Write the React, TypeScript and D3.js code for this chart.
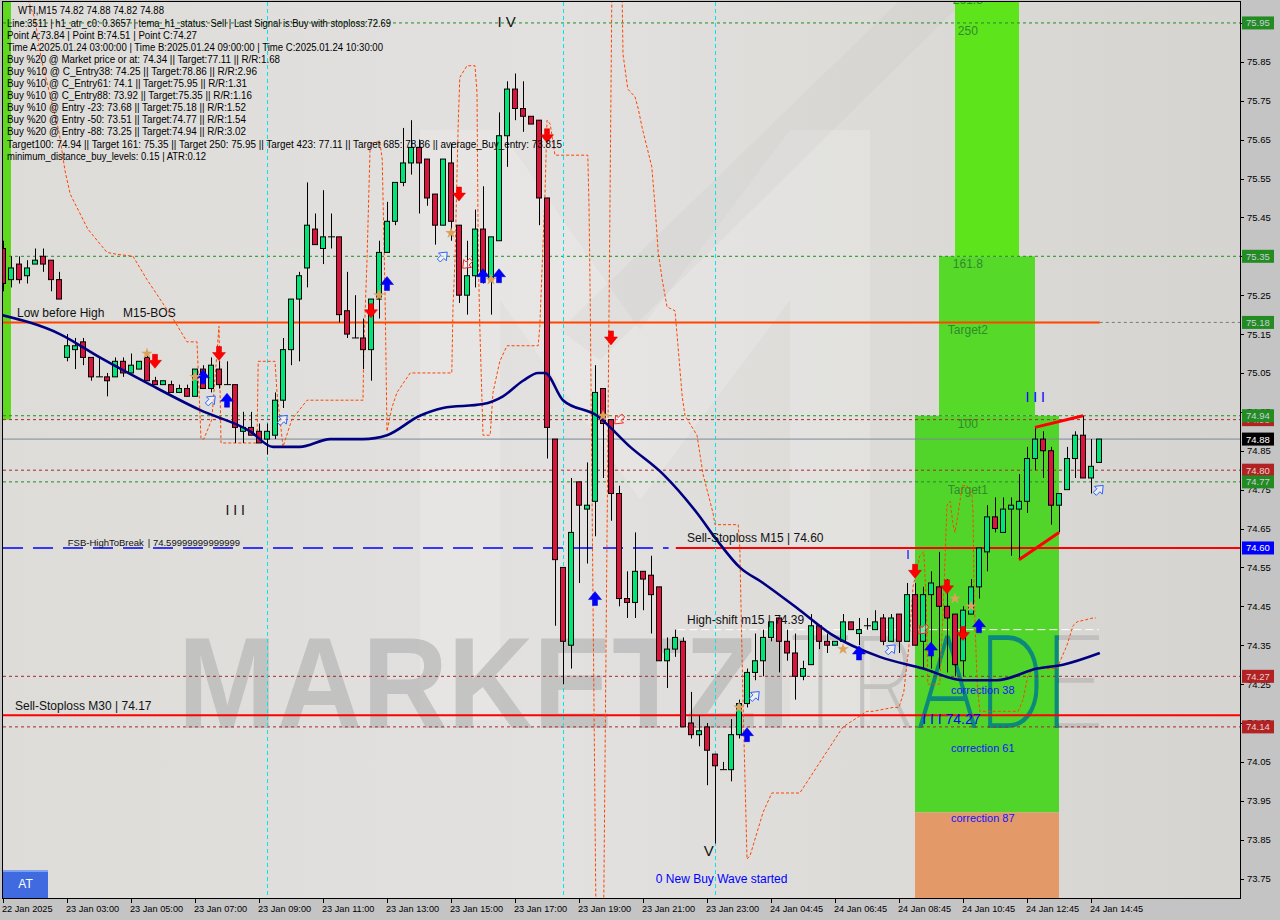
import * as d3 from "d3";

const FONT = "'Liberation Sans', Arial, Helvetica, sans-serif";

// OHLC of the M15 bars, index 0 = first bar on the left
const openP = [
  75.37, 75.29, 75.33, 75.30, 75.33, 75.35, 75.34, 75.29, 75.09, 75.11,
  75.13, 75.09, 75.04, 75.04, 75.04, 75.08, 75.05, 75.06, 75.09, 75.03,
  75.02, 75.02, 75.00, 75.01, 74.99, 75.06, 75.01, 75.06, 75.02, 75.02,
  74.90, 74.91, 74.90, 74.88, 74.89, 74.98, 75.11, 75.24, 75.32, 75.42,
  75.37, 75.40, 75.40, 75.21, 75.14, 75.14, 75.11, 75.24, 75.36, 75.44,
  75.54, 75.59, 75.63, 75.60, 75.51, 75.43, 75.59, 75.43, 75.25, 75.30,
  75.42, 75.29, 75.39, 75.66, 75.78, 75.73, 75.71, 75.70, 75.50, 74.88,
  74.55, 74.35, 74.77, 74.70, 74.72, 75.01, 74.93, 74.74, 74.47, 74.46,
  74.54, 74.53, 74.50, 74.31, 74.34, 74.36, 74.15, 74.12, 74.14, 74.07,
  74.03, 74.03, 74.12, 74.20, 74.28, 74.31, 74.37, 74.42, 74.36, 74.33,
  74.27, 74.30, 74.40, 74.36, 74.35, 74.36, 74.41, 74.38, 74.40, 74.39,
  74.42, 74.36, 74.43, 74.36, 74.48, 74.36, 74.48, 74.50, 74.45, 74.43,
  74.31, 74.43, 74.50, 74.59, 74.68, 74.64, 74.70, 74.70, 74.72, 74.83,
  74.88, 74.85, 74.71, 74.75, 74.83, 74.89, 74.78, 74.82,
];
const highP = [
  75.39, 75.35, 75.35, 75.34, 75.37, 75.37, 75.34, 75.31, 75.15, 75.14,
  75.14, 75.09, 75.09, 75.05, 75.09, 75.09, 75.10, 75.08, 75.10, 75.04,
  75.03, 75.03, 75.02, 75.02, 75.06, 75.07, 75.09, 75.08, 75.08, 75.02,
  74.95, 74.95, 74.92, 74.92, 75.00, 75.14, 75.24, 75.31, 75.54, 75.46,
  75.52, 75.46, 75.40, 75.31, 75.25, 75.19, 75.24, 75.39, 75.49, 75.54,
  75.68, 75.70, 75.65, 75.60, 75.51, 75.60, 75.64, 75.43, 75.39, 75.47,
  75.53, 75.40, 75.72, 75.80, 75.82, 75.80, 75.71, 75.70, 75.50, 74.88,
  74.55, 74.78, 74.77, 74.82, 75.07, 75.01, 74.93, 74.76, 74.54, 74.64,
  74.54, 74.58, 74.50, 74.37, 74.39, 74.37, 74.23, 74.17, 74.15, 74.07,
  74.05, 74.16, 74.21, 74.29, 74.38, 74.39, 74.41, 74.42, 74.39, 74.38,
  74.31, 74.43, 74.40, 74.38, 74.36, 74.43, 74.41, 74.42, 74.42, 74.44,
  74.43, 74.43, 74.43, 74.51, 74.51, 74.50, 74.54, 74.59, 74.52, 74.43,
  74.45, 74.52, 74.60, 74.71, 74.73, 74.73, 74.73, 74.79, 74.86, 74.91,
  74.90, 74.86, 74.74, 74.86, 74.90, 74.94, 74.88, 74.88,
];
const lowP = [
  75.26, 75.27, 75.28, 75.28, 75.33, 75.31, 75.26, 75.24, 75.08, 75.06,
  75.07, 75.03, 75.04, 74.99, 75.04, 75.04, 75.05, 75.06, 75.03, 75.02,
  75.02, 75.00, 75.00, 74.99, 74.99, 75.01, 75.00, 75.01, 75.02, 74.87,
  74.87, 74.89, 74.87, 74.84, 74.88, 74.96, 75.07, 75.08, 75.27, 75.38,
  75.33, 75.37, 75.18, 75.14, 75.14, 75.06, 75.03, 75.19, 75.36, 75.43,
  75.53, 75.56, 75.46, 75.48, 75.38, 75.43, 75.39, 75.23, 75.20, 75.27,
  75.28, 75.20, 75.39, 75.58, 75.70, 75.67, 75.69, 75.43, 74.83, 74.40,
  74.25, 74.29, 74.51, 74.56, 74.63, 74.78, 74.67, 74.45, 74.42, 74.42,
  74.44, 74.38, 74.31, 74.24, 74.32, 74.14, 74.11, 74.09, 73.99, 73.84,
  74.03, 74.00, 74.11, 74.19, 74.26, 74.27, 74.36, 74.28, 74.31, 74.21,
  74.26, 74.30, 74.34, 74.33, 74.35, 74.36, 74.39, 74.35, 74.39, 74.39,
  74.35, 74.36, 74.33, 74.36, 74.35, 74.29, 74.29, 74.29, 74.28, 74.27,
  74.27, 74.43, 74.47, 74.54, 74.64, 74.64, 74.58, 74.57, 74.69, 74.80,
  74.78, 74.66, 74.64, 74.75, 74.78, 74.78, 74.74, 74.82,
];
const closeP = [
  75.28, 75.32, 75.29, 75.32, 75.34, 75.33, 75.29, 75.24, 75.12, 75.12,
  75.09, 75.04, 75.04, 75.03, 75.08, 75.05, 75.07, 75.08, 75.03, 75.02,
  75.03, 75.00, 75.01, 74.99, 75.06, 75.01, 75.07, 75.02, 75.02, 74.91,
  74.91, 74.89, 74.87, 74.90, 74.98, 75.11, 75.24, 75.30, 75.43, 75.38,
  75.40, 75.40, 75.20, 75.15, 75.14, 75.11, 75.24, 75.36, 75.44, 75.54,
  75.59, 75.63, 75.59, 75.50, 75.43, 75.60, 75.44, 75.25, 75.30, 75.42,
  75.31, 75.40, 75.66, 75.78, 75.73, 75.71, 75.69, 75.50, 74.91, 74.57,
  74.36, 74.64, 74.71, 74.71, 75.00, 74.92, 74.74, 74.47, 74.46, 74.54,
  74.52, 74.48, 74.31, 74.34, 74.37, 74.14, 74.12, 74.13, 74.08, 74.04,
  74.03, 74.12, 74.20, 74.28, 74.31, 74.37, 74.41, 74.36, 74.33, 74.27,
  74.29, 74.40, 74.36, 74.35, 74.36, 74.41, 74.39, 74.39, 74.40, 74.41,
  74.36, 74.42, 74.36, 74.48, 74.35, 74.48, 74.51, 74.45, 74.42, 74.30,
  74.44, 74.50, 74.60, 74.68, 74.65, 74.70, 74.71, 74.72, 74.83, 74.88,
  74.85, 74.71, 74.74, 74.83, 74.89, 74.78, 74.81, 74.88,
];

const timeTickBars = [0, 8, 16, 24, 32, 40, 48, 56, 64, 72, 80, 88, 96, 104, 112, 120, 128, 136];
const timeLabels = [
  "22 Jan 2025", "23 Jan 03:00", "23 Jan 05:00", "23 Jan 07:00", "23 Jan 09:00", "23 Jan 11:00",
  "23 Jan 13:00", "23 Jan 15:00", "23 Jan 17:00", "23 Jan 19:00", "23 Jan 21:00", "23 Jan 23:00",
  "24 Jan 04:45", "24 Jan 06:45", "24 Jan 08:45", "24 Jan 10:45", "24 Jan 12:45", "24 Jan 14:45",
];
const priceTicks = [
  75.95, 75.85, 75.75, 75.65, 75.55, 75.45, 75.35, 75.25, 75.15, 75.05, 74.95, 74.85,
  74.75, 74.65, 74.55, 74.45, 74.35, 74.25, 74.15, 74.05, 73.95, 73.85, 73.75,
];

// moving average, [bar, price]
const maPoints: [number, number][] = [
  [-0.4, 75.2], [7.1, 75.15], [12.1, 75.09], [18.4, 75.02], [24.6, 74.955], [30.9, 74.9],
  [33.75, 74.86], [37.1, 74.86], [40.9, 74.88], [45, 74.88], [48, 74.89], [52.1, 74.94],
  [55, 74.96], [60, 74.97], [62.5, 74.99], [65, 75.03], [66.9, 75.05], [67.75, 75.05],
  [70, 74.98], [74.25, 74.94], [78.4, 74.86], [82.5, 74.79], [86.75, 74.69], [89.25, 74.62],
  [92.1, 74.55], [95, 74.51], [99.6, 74.44], [103.4, 74.38], [109.6, 74.32], [115, 74.29],
  [120, 74.26], [124.25, 74.26], [129.25, 74.29], [132.5, 74.3], [137.1, 74.33],
];

// stepped orange envelope, [bar, price]
const envelopeLeft: [number, number][] = [
  [3.1, 76.01], [4, 75.96], [4.75, 75.86], [7, 75.67], [7.75, 75.57], [8.4, 75.51], [10.6, 75.42],
  [13, 75.36], [14.25, 75.355], [16.25, 75.35], [18, 75.29], [21.25, 75.19], [23, 75.13],
  [24.25, 75.13], [24.75, 74.88], [25.1, 74.88], [26.1, 74.93], [27, 75.17], [27.25, 74.87],
  [31.25, 74.87], [31.75, 74.87], [31.9, 75.08], [34, 75.08], [34.25, 75.0], [35, 74.86],
  [36.1, 74.93], [38, 74.98], [45, 74.98], [45.1, 75.11], [45.5, 75.34], [45.9, 75.64],
  [47.1, 75.645], [47.4, 75.6], [47.75, 75.26], [48, 74.9], [48.6, 74.96], [49.25, 75.0],
  [50.9, 75.05], [56.1, 75.05], [56.25, 75.22], [56.5, 75.34], [56.9, 75.69], [57.1, 75.81],
  [58, 75.84], [59, 75.84], [59.25, 75.77], [59.4, 75.36], [59.6, 75.17], [60, 74.89],
  [60.9, 74.89], [61.25, 75.0], [62.1, 75.08], [63, 75.12], [66.9, 75.12], [67.1, 75.17],
  [67.75, 75.51], [68, 75.7], [68.4, 75.69], [69, 75.61], [73.1, 75.61], [73.25, 75.48],
  [73.4, 75.24], [73.75, 74.47], [74.1, 73.7],
];
const envelopeSpike: [number, number][] = [[76.1, 76.01], [75.1, 73.7]];
const envelopeRight: [number, number][] = [
  [77.4, 76.01], [77.5, 75.87], [78.1, 75.78], [79, 75.76], [79.4, 75.73], [79.9, 75.68],
  [80.5, 75.63], [81.1, 75.58], [81.5, 75.48], [81.9, 75.36], [82.4, 75.29], [83, 75.22],
  [84, 75.21], [84.25, 75.15], [84.9, 74.99], [85.25, 74.94], [86.75, 74.89], [87.5, 74.79],
  [88.75, 74.69], [89, 74.66], [91.9, 74.66], [92.1, 74.6], [92.5, 74.21], [93, 73.8],
  [93.4, 73.81], [95, 73.92], [96.1, 73.97], [99.6, 73.97], [105, 74.14], [108, 74.18],
  [108.75, 74.18], [111.25, 74.19], [112, 74.19], [112.6, 74.23], [113.25, 74.35],
  [113.75, 74.5], [114.6, 74.58], [115.1, 74.59], [115.4, 74.47], [115.6, 74.25],
  [117.1, 74.25], [117.5, 74.43], [118, 74.71], [118.4, 74.72], [118.75, 74.66], [119, 74.64],
  [119.4, 74.69], [119.9, 74.76], [120.5, 74.76], [121.1, 74.74], [121.25, 74.69],
  [121.4, 74.47], [121.75, 74.26], [122.1, 74.18], [126.9, 74.18], [127.5, 74.21],
  [128.1, 74.27], [128.75, 74.29], [131.75, 74.29], [133, 74.35], [133.75, 74.4],
  [134.25, 74.41], [136.25, 74.42], [136.6, 74.42],
];

// horizontal levels
const targetLevels = [75.95, 75.35, 74.94, 74.77];
const stopLevels = [74.93, 74.8, 74.27, 74.14];
const bosLevel = 75.18;
const currentPrice = 74.88;
const fsbLevel = 74.6;
const sellStopM30 = 74.17;
const highShift = 74.39;
const boxLevels = [
  { v: 75.95, kind: "target" }, { v: 75.35, kind: "target" }, { v: 75.18, kind: "target" },
  { v: 74.93, kind: "stop" }, { v: 74.94, kind: "target" }, { v: 74.88, kind: "price" },
  { v: 74.8, kind: "stop" }, { v: 74.77, kind: "target" }, { v: 74.6, kind: "fsb" },
  { v: 74.27, kind: "stop" }, { v: 74.14, kind: "stop" },
];

// fibonacci zones, bar span and price span
const zones = [
  { from: 119, to: 127, top: 76.05, bottom: 75.35, kind: "z3" },
  { from: 117, to: 129, top: 75.35, bottom: 74.94, kind: "z2" },
  { from: 114, to: 132, top: 74.94, bottom: 73.92, kind: "z1" },
  { from: 114, to: 132, top: 73.92, bottom: 73.6, kind: "z0" },
];
const zoneLabels = [
  { text: "261.8", p: 76.03 }, { text: "250", p: 75.95 }, { text: "161.8", p: 75.35 },
  { text: "Target2", p: 75.18 }, { text: "100", p: 74.94 }, { text: "Target1", p: 74.77 },
];
const correctionLabels = [
  { text: "correction 38", p: 74.25 }, { text: "correction 61", p: 74.1 }, { text: "correction 87", p: 73.92 },
];

// signals, [bar, price]
const redDown: [number, number][] = [
  [19, 75.08], [27, 75.1], [46, 75.21], [57, 75.51], [68, 75.66], [76, 75.14], [114, 74.54], [118, 74.5], [120, 74.38],
];
const blueUp: [number, number][] = [
  [25, 75.04], [28, 74.98], [48, 75.28], [60, 75.3], [62, 75.3], [74, 74.47], [93, 74.12], [107, 74.33], [116, 74.34], [122, 74.4],
];
const hollowBlue: [number, number][] = [[26, 74.98], [35, 74.93], [55, 75.35], [94, 74.22], [111, 74.34], [137, 74.75]];
const hollowRed: [number, number][] = [[58, 75.33], [77, 74.93], [115, 74.39]];
const stars: [number, number][] = [
  [18, 75.1], [24, 75.04], [47, 75.25], [56, 75.41], [61, 75.29], [75, 74.94], [92, 74.19], [105, 74.34], [119, 74.47], [121, 74.45],
];
const cyanBars = [33, 70, 89];
const wedgeUpper: [number, number][] = [[129, 74.91], [135, 74.94]];
const wedgeLower: [number, number][] = [[127, 74.57], [132, 74.64]];

const header = "WTI,M15  74.82 74.88 74.82 74.88";
const infoLines = [
  "Line:3511 | h1_atr_c0: 0.3657 | tema_h1_status: Sell | Last Signal is:Buy with stoploss:72.69",
  "Point A:73.84 | Point B:74.51 | Point C:74.27",
  "Time A:2025.01.24 03:00:00 | Time B:2025.01.24 09:00:00 | Time C:2025.01.24 10:30:00",
  "Buy %20 @ Market price or at: 74.34 || Target:77.11 || R/R:1.68",
  "Buy %10 @ C_Entry38: 74.25 || Target:78.86 || R/R:2.96",
  "Buy %10 @ C_Entry61: 74.1 || Target:75.95 || R/R:1.31",
  "Buy %10 @ C_Entry88: 73.92 || Target:75.35 || R/R:1.16",
  "Buy %10 @ Entry -23: 73.68 || Target:75.18 || R/R:1.52",
  "Buy %20 @ Entry -50: 73.51 || Target:74.77 || R/R:1.54",
  "Buy %20 @ Entry -88: 73.25 || Target:74.94 || R/R:3.02",
  "Target100: 74.94 || Target 161: 75.35 || Target 250: 75.95 || Target 423: 77.11 || Target 685: 78.86 || average_Buy_entry: 73.815",
  "minimum_distance_buy_levels: 0.15 | ATR:0.12",
];
const infoWidths = [384, 190, 376, 273, 250, 240, 245, 239, 239, 239, 555, 199];

const zoneFill: Record<string, string> = { z3: "#5ee41b", z2: "#56d928", z1: "#52d52a", z0: "#e39a68" };
const boxFill: Record<string, string> = { target: "#228b22", stop: "#b22222", price: "#000000", fsb: "#0000ff" };
const boxText: Record<string, string> = { target: "#c8d0dc", stop: "#e8d0d0", price: "#ffffff", fsb: "#ffffff" };

const DOWN = "M-2.5,-7L2.5,-7L2.5,-1L6.5,-1L0,7L-6.5,-1L-2.5,-1Z";
const UP = "M-2.5,7L2.5,7L2.5,1L6.5,1L0,-7L-6.5,1L-2.5,1Z";

export default function App() {
  const L = 3;
  const R = 1240;
  const T = 2;
  const B = 898;
  const x = d3.scaleLinear().domain([0, 137]).range([3, 1099]);
  const y = d3.scaleLinear().domain([73.7, 76.009]).range([898, 0]);
  const path = d3.line<[number, number]>().x((d) => x(d[0])).y((d) => y(d[1]));
  const maPath = d3
    .line<[number, number]>()
    .x((d) => x(d[0]))
    .y((d) => y(d[1]))
    .curve(d3.curveMonotoneX);
  const star = d3.symbol().type(d3.symbolStar).size(42)();
  const z1 = zones[2];

  const watermark = (fill: string, op: number) => (
    <g opacity={op}>
      <text x={178} y={728} fontSize={130} fontWeight="bold" fontFamily={FONT} fill={fill} textLength={612} lengthAdjust="spacingAndGlyphs">
        MARKETZI
      </text>
      <text x={790} y={728} fontSize={130} fontWeight={200} fontFamily="Roboto, 'Open Sans', sans-serif" fill={fill} textLength={313} lengthAdjust="spacingAndGlyphs">
        TRADE
      </text>
    </g>
  );

  return (
    <svg width={1280} height={920} style={{ position: "fixed", left: 0, top: 0, display: "block" }} fontFamily={FONT}>
      <defs>
        <linearGradient id="bg" x1="0" x2="1" y1="0" y2="0">
          <stop offset="0" stopColor="#dddcd9" />
          <stop offset="0.45" stopColor="#e2e1df" />
          <stop offset="1" stopColor="#d6d4d0" />
        </linearGradient>
        <clipPath id="plot">
          <rect x={L} y={T} width={R - L} height={B - T} />
        </clipPath>
        <clipPath id="zoneClip">
          <rect x={x(z1.from)} y={y(z1.top)} width={x(z1.to) - x(z1.from)} height={y(z1.bottom) - y(z1.top)} />
        </clipPath>
      </defs>

      <rect x={0} y={0} width={1280} height={920} fill="#c4c4c4" />
      <rect x={L} y={T} width={R - L} height={B - T} fill="url(#bg)" />

      <g clipPath="url(#plot)">
        {/* faint logo */}
        <path d="M420,130L500,130L640,330L790,130L870,130L870,720L790,720L790,300L640,500L500,300L500,720L420,720Z" fill="#ffffff" opacity={0.17} />
        <path d="M900,0L965,0L600,360L560,330Z" fill="#b8b8b8" opacity={0.12} />
        {watermark("#b9b9b9", 0.75)}

        {/* zones */}
        {zones.map((z, i) => (
          <rect key={i} x={x(z.from)} y={y(z.top)} width={x(z.to) - x(z.from)} height={y(z.bottom) - y(z.top)} fill={zoneFill[z.kind]} />
        ))}
        <g clipPath="url(#zoneClip)">{watermark("#0b8a7c", 1)}</g>
        {zoneLabels.map((l, i) => (
          <text key={i} x={x(120.6)} y={y(l.p) + 12} fontSize={12} textAnchor="middle" fill="#2f8a2f">
            {l.text}
          </text>
        ))}
        {correctionLabels.map((l, i) => (
          <text key={i} x={x(118.5)} y={y(l.p) + 10} fontSize={11} fill="#1414ff">
            {l.text}
          </text>
        ))}

        {/* left indicator bar */}
        <rect x={x(0)} y={T} width={x(1) - x(0)} height={y(74.93) - T} fill="#5fd820" />

        {/* level lines */}
        {targetLevels.map((v) => (
          <line key={v} x1={L} x2={R} y1={y(v)} y2={y(v)} stroke="#228b22" strokeDasharray="3,3" />
        ))}
        {stopLevels.map((v) => (
          <line key={v} x1={L} x2={R} y1={y(v)} y2={y(v)} stroke="#a52a2a" strokeDasharray="3,3" />
        ))}
        <line x1={L} x2={R} y1={y(currentPrice)} y2={y(currentPrice)} stroke="#7a8896" />
        <line x1={x(137.1)} x2={R} y1={y(bosLevel)} y2={y(bosLevel)} stroke="#6f7f6f" strokeDasharray="3,3" />
        <line x1={L} x2={x(137.1)} y1={y(bosLevel)} y2={y(bosLevel)} stroke="#ff4500" strokeWidth={2} />
        <line x1={L} x2={x(83.2)} y1={y(fsbLevel)} y2={y(fsbLevel)} stroke="#0000ff" strokeWidth={1.3} strokeDasharray="20,10" />
        <line x1={x(84.1)} x2={R} y1={y(fsbLevel)} y2={y(fsbLevel)} stroke="#ff0000" strokeWidth={2} />
        <line x1={L} x2={R} y1={y(sellStopM30)} y2={y(sellStopM30)} stroke="#ff0000" strokeWidth={2} />
        <line x1={x(84.3)} x2={x(137)} y1={y(highShift)} y2={y(highShift)} stroke="#ffffff" strokeDasharray="8,4" />

        {cyanBars.map((b) => (
          <line key={b} x1={x(b) + 0.5} x2={x(b) + 0.5} y1={T} y2={B} stroke="#00e5ee" strokeDasharray="4,3" />
        ))}

        {/* envelope */}
        {[envelopeLeft, envelopeSpike, envelopeRight].map((pts, i) => (
          <path key={i} d={path(pts) || ""} fill="none" stroke="#ff4500" strokeWidth={1} strokeDasharray="3,2" />
        ))}

        {/* candles */}
        {openP.map((o, i) => {
          const c = closeP[i];
          const cx = x(i);
          const top = y(Math.max(o, c));
          const bot = y(Math.min(o, c));
          const fill = c > o ? "#00e676" : c < o ? "#dc143c" : "#000";
          return (
            <g key={i}>
              <line x1={cx + 0.5} x2={cx + 0.5} y1={y(highP[i])} y2={y(lowP[i])} stroke="#000" />
              {c === o ? (
                <line x1={cx - 3} x2={cx + 4} y1={top} y2={top} stroke="#000" />
              ) : (
                <rect x={cx - 2.5} y={top} width={5} height={Math.max(1, bot - top)} fill={fill} stroke="#000" strokeWidth={1} />
              )}
            </g>
          );
        })}

        <path d={maPath(maPoints) || ""} fill="none" stroke="#000080" strokeWidth={2.6} />

        {/* wedge */}
        <path d={path(wedgeUpper) || ""} stroke="#ff0000" strokeWidth={3} />
        <path d={path(wedgeLower) || ""} stroke="#ff0000" strokeWidth={3} />

        {/* signals */}
        {redDown.map(([b, p], i) => (
          <path key={i} d={DOWN} transform={`translate(${x(b)},${y(p)})`} fill="#ff0000" stroke="#cc0000" strokeWidth={0.5} />
        ))}
        {blueUp.map(([b, p], i) => (
          <path key={i} d={UP} transform={`translate(${x(b)},${y(p)})`} fill="#0000ff" stroke="#0000cc" strokeWidth={0.5} />
        ))}
        {hollowBlue.map(([b, p], i) => (
          <path key={i} d={UP} transform={`translate(${x(b)},${y(p)}) rotate(45) scale(0.85)`} fill="rgba(255,255,255,0.5)" stroke="#2a62ff" strokeWidth={1.1} />
        ))}
        {hollowRed.map(([b, p], i) => (
          <path key={i} d={DOWN} transform={`translate(${x(b)},${y(p)}) rotate(45) scale(0.85)`} fill="rgba(255,255,255,0.4)" stroke="#ff2020" strokeWidth={1.1} />
        ))}
        {stars.map(([b, p], i) => (
          <path key={i} d={star || ""} transform={`translate(${x(b)},${y(p)})`} fill="#dca25c" />
        ))}

        {/* annotations */}
        <text x={x(2) - 2} y={y(bosLevel) - 5} fontSize={12} fill="#111">Low before High</text>
        <text x={x(15)} y={y(bosLevel) - 5} fontSize={12} fill="#111">M15-BOS</text>
        <text x={x(8.1)} y={y(fsbLevel) - 2} fontSize={9.5} fill="#111">FSB-HighToBreak</text>
        <text x={x(18.1)} y={y(fsbLevel) - 2} fontSize={9.5} fill="#111">| 74.59999999999999</text>
        <text x={x(85.5)} y={y(fsbLevel) - 6} fontSize={12} fill="#111">Sell-Stoploss M15 | 74.60</text>
        <text x={x(85.5)} y={y(highShift) - 6} fontSize={12} fill="#111">High-shift m15 | 74.39</text>
        <text x={x(1.5)} y={y(sellStopM30) - 5} fontSize={12} fill="#111">Sell-Stoploss M30 | 74.17</text>
        <text x={x(81.6)} y={y(73.75) + 4} fontSize={12} fill="#0000ff">0 New Buy Wave started</text>
        <text x={x(61.8)} y={y(75.96) + 8} fontSize={15} fill="#111">I V</text>
        <text x={x(87.6)} y={y(73.82) + 5} fontSize={15} fill="#111">V</text>
        <text x={x(27.8)} y={y(74.7) + 6} fontSize={14} fill="#111">I I I</text>
        <text x={x(127.8)} y={y(74.99) + 6} fontSize={14} fill="#0000ff">I I I</text>
        <text x={x(114.9)} y={y(74.16) + 5} fontSize={14} fill="#0000ff">I I I 74.27</text>
        <text x={x(112.9)} y={y(74.58) + 3} fontSize={12} fill="#0000ff">I</text>

        {/* info block */}
        <text x={18} y={14} fontSize={10} fill="#000" textLength={146} lengthAdjust="spacingAndGlyphs">{header}</text>
        {infoLines.map((t, i) => (
          <text key={i} x={7} y={26.5 + i * 12.1} fontSize={10} fill="#000" textLength={infoWidths[i]} lengthAdjust="spacingAndGlyphs">
            {t}
          </text>
        ))}
      </g>

      {/* frame */}
      <rect x={L - 0.5} y={T - 0.5} width={R - L + 1} height={B - T + 1} fill="none" stroke="#000" />

      {/* time axis */}
      {timeTickBars.map((b, i) => (
        <g key={b}>
          <line x1={x(b) + 0.5} x2={x(b) + 0.5} y1={B} y2={B + 5} stroke="#000" />
          <text x={x(b) - 1} y={B + 14} fontSize={9.2} fill="#000">{timeLabels[i]}</text>
        </g>
      ))}

      {/* price axis */}
      {priceTicks.map((v) => (
        <g key={v}>
          <line x1={R} x2={R + 4} y1={Math.round(y(v)) + 0.5} y2={Math.round(y(v)) + 0.5} stroke="#000" />
          <text x={R + 7} y={y(v) + 3.5} fontSize={9.5} fill="#000">{v.toFixed(2)}</text>
        </g>
      ))}
      {boxLevels.map((l, i) => (
        <g key={i}>
          <rect x={R + 2} y={y(l.v) - 6.5} width={32} height={13} fill={boxFill[l.kind]} />
          <text x={R + 6} y={y(l.v) + 3.5} fontSize={9.5} fill={boxText[l.kind]}>{l.v.toFixed(2)}</text>
        </g>
      ))}

      {/* AT button */}
      <rect x={3} y={870} width={45} height={28} fill="#3f6ae0" />
      <rect x={3} y={870} width={45} height={2} fill="#7ea0f0" />
      <text x={25.5} y={888} fontSize={12} fill="#ffffff" textAnchor="middle">AT</text>
    </svg>
  );
}
